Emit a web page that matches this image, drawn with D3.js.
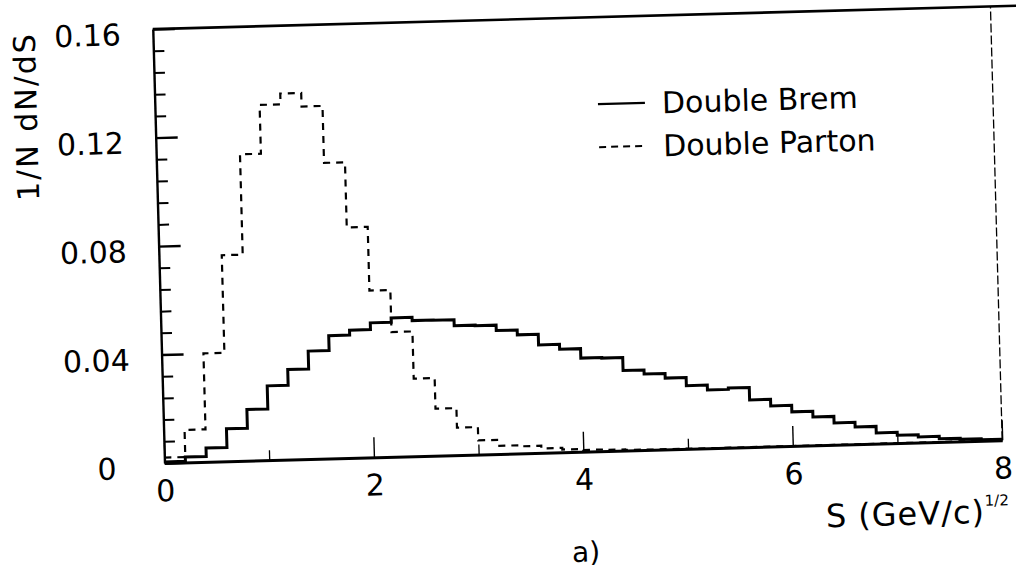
<!DOCTYPE html>
<html>
<head>
<meta charset="utf-8">
<script src="https://cdn.jsdelivr.net/npm/d3@7"></script>
<style>
  html, body { margin: 0; padding: 0; background: #fff; }
  svg { display: block; }
  text { font-family: "DejaVu Sans", sans-serif; fill: #000; }
</style>
</head>
<body>
<svg id="chart" width="1016" height="571"></svg>
<script>
// ---- data ----
const binEdges = [0, 0.2, 0.4, 0.6, 0.8, 1.0, 1.2, 1.4, 1.6, 1.8, 2.0, 2.2, 2.4, 2.6, 2.8, 3.0, 3.2, 3.4, 3.6, 3.8, 4.0,
                  4.2, 4.4, 4.6, 4.8, 5.0, 5.2, 5.4, 5.6, 5.8, 6.0, 6.2, 6.4, 6.6, 6.8, 7.0, 7.2, 7.4, 7.6, 7.8, 8.0];
const doubleBrem = [0.0004, 0.0020, 0.0051, 0.0120, 0.0189, 0.0274, 0.0332, 0.0398, 0.0453, 0.0471,
                    0.0496, 0.0512, 0.0500, 0.0499, 0.0477, 0.0475, 0.0455, 0.0437, 0.0398, 0.0380,
                    0.0345, 0.0343, 0.0295, 0.0280, 0.0263, 0.0233, 0.0215, 0.0220, 0.0174, 0.0150,
                    0.0126, 0.0105, 0.0081, 0.0064, 0.0040, 0.0029, 0.0021, 0.0012, 0.0008, 0.0004];
const doubleParton = [0.0020, 0.0120, 0.0400, 0.0760, 0.1130, 0.1310, 0.1350, 0.1300, 0.1090, 0.0850,
                      0.0615, 0.0460, 0.0286, 0.0173, 0.0101, 0.0052, 0.0030, 0.0026, 0.0016, 0.0010,
                      0.0006, 0.0004, 0.0002, 0.0001, 0.0001, 0, 0, 0, 0, 0,
                      0, 0, 0, 0, 0, 0, 0, 0, 0, 0];
const seriesNames = ["Double Brem", "Double Parton"];
const xTickValues = [0, 2, 4, 6, 8];
const xTickLabels = ["0", "2", "4", "6", "8"];
const xMinorTicks = [1, 3, 5, 7];
const yTickValues = [0, 0.04, 0.08, 0.12, 0.16];
const yTickLabels = ["0", "0.04", "0.08", "0.12", "0.16"];
const xTitle = "S (GeV/c)";
const xTitleSup = "1/2";
const yTitle = "1/N dN/dS";
const panelLabel = "a)";

// ---- layout ----
const W = 838, H = 434;
const svg = d3.select("#chart");
const g = svg.append("g").attr("transform", "translate(164.5,463) rotate(-1.55)");

const x = d3.scaleLinear().domain([0, 8]).range([0, W]);
const y = d3.scaleLinear().domain([0, 0.16]).range([0, -H]);

// frame
g.append("line").attr("x1", x(0)).attr("x2", x(8) + 26).attr("y1", y(0.16)).attr("y2", y(0.16))
  .attr("stroke", "#000").attr("stroke-width", 2.6);
g.append("line").attr("x1", x(8)).attr("x2", x(8)).attr("y1", y(0)).attr("y2", y(0.16))
  .attr("stroke", "#000").attr("stroke-width", 1.3).attr("stroke-dasharray", "9,3");

// y axis: minor ticks
const yMinor = d3.range(0, 0.1601, 0.008).filter(v => !yTickValues.some(t => Math.abs(t - v) < 1e-9));
g.append("g").call(d3.axisLeft(y).tickValues(yMinor).tickSize(-11).tickFormat(""))
  .call(s => s.select(".domain").remove())
  .selectAll("line").attr("stroke", "#000").attr("stroke-width", 2);
// y axis: major ticks with labels
const yAxis = g.append("g").call(d3.axisLeft(y).tickValues(yTickValues).tickSizeInner(-22).tickSizeOuter(0)
  .tickPadding(32).tickFormat((d, i) => yTickLabels[i]));
yAxis.select(".domain").attr("stroke", "#000").attr("stroke-width", 2.4);
yAxis.selectAll("line").attr("stroke", "#000").attr("stroke-width", 2.4);
yAxis.selectAll("text").attr("font-size", 30).attr("dy", "0.36em")
  .attr("transform", d => d === 0 ? "translate(-16,4)" : "translate(0,4)")
  .style("font-family", "DejaVu Sans");

// x axis: minor ticks
g.append("g").call(d3.axisBottom(x).tickValues(xMinorTicks).tickSize(-10).tickFormat(""))
  .call(s => s.select(".domain").remove())
  .selectAll("line").attr("stroke", "#000").attr("stroke-width", 1.3);
const xAxis = g.append("g").call(d3.axisBottom(x).tickValues(xTickValues).tickSizeInner(-20).tickSizeOuter(0)
  .tickPadding(17).tickFormat((d, i) => xTickLabels[i]));
xAxis.select(".domain").attr("stroke", "#000").attr("stroke-width", 3);
xAxis.selectAll("line").attr("stroke", "#000").attr("stroke-width", 1.4);
xAxis.selectAll("text").attr("font-size", 30).style("font-family", "DejaVu Sans");

// histograms
const stepData = vals => vals.map((v, i) => [binEdges[i], v]).concat([[binEdges[binEdges.length - 1], vals[vals.length - 1]]]);
const line = d3.line().x(d => x(d[0])).y(d => y(d[1])).curve(d3.curveStepAfter);

g.append("path").datum(stepData(doubleParton)).attr("d", line)
  .attr("fill", "none").attr("stroke", "#000").attr("stroke-width", 2.2).attr("stroke-dasharray", "7,6");
g.append("path").datum(stepData(doubleBrem)).attr("d", line)
  .attr("fill", "none").attr("stroke", "#000").attr("stroke-width", 3);

// legend
const legend = g.append("g").attr("transform", "translate(443,-347)");
seriesNames.forEach((name, i) => {
  const row = legend.append("g").attr("transform", `translate(0,${i * 43})`);
  row.append("line").attr("x1", 0).attr("x2", 47).attr("y1", 0).attr("y2", 0)
    .attr("stroke", "#000").attr("stroke-width", i === 0 ? 2.4 : 2)
    .attr("stroke-dasharray", i === 0 ? null : "7,5");
  row.append("text").attr("x", 64).attr("y", 0).attr("dy", "0.36em")
    .attr("font-size", 30).text(name);
});

// axis titles
const xt = g.append("text").attr("x", x(8) + 5).attr("y", 82).attr("text-anchor", "end")
  .attr("font-size", 32).attr("letter-spacing", 1);
xt.append("tspan").text(xTitle);
xt.append("tspan").attr("font-size", 15).attr("dy", -17).attr("letter-spacing", 0).text(xTitleSup);

g.append("text").attr("transform", "translate(-129,-350) rotate(-90)")
  .attr("text-anchor", "middle").attr("dy", "0.36em").attr("font-size", 30).attr("letter-spacing", 2)
  .text(yTitle);

g.append("text").attr("x", x(4)).attr("y", 100).attr("text-anchor", "middle").attr("dy", "0.36em")
  .attr("font-size", 28).text(panelLabel);
</script>
</body>
</html>
